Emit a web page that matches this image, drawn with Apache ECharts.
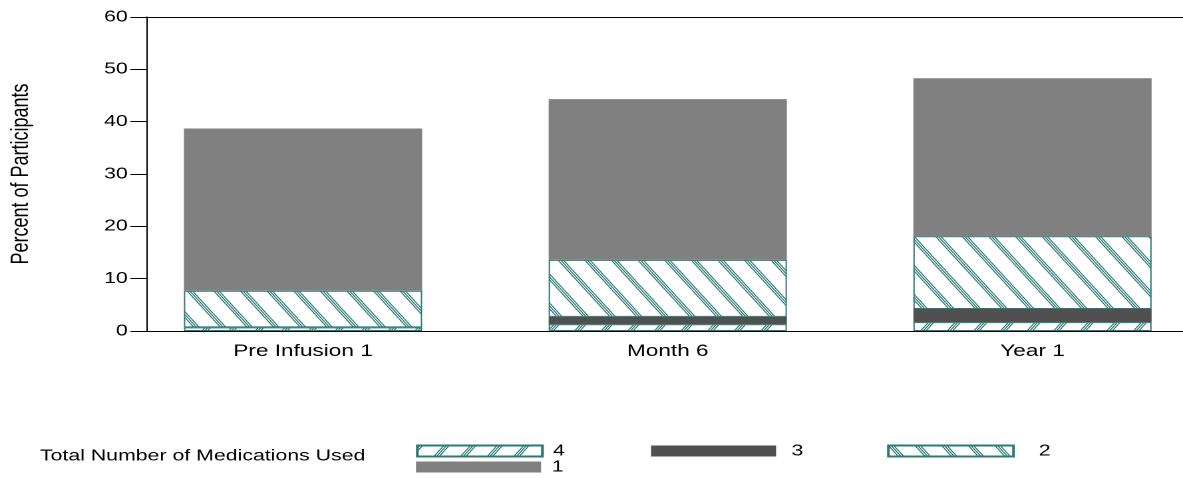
<!DOCTYPE html>
<html>
<head>
<meta charset="utf-8">
<script src="https://cdn.jsdelivr.net/npm/echarts@6/dist/echarts.min.js"></script>
<style>
html,body{margin:0;padding:0;background:#fff;overflow:hidden;}
#c{width:889px;height:478px;transform:scaleX(1.33071);transform-origin:0 0;}
</style>
</head>
<body>
<div id="c"></div>
<script>
// ---- data ----
const categories = ['Pre Infusion 1', 'Month 6', 'Year 1'];
const seriesNames = ['4', '3', '2', '1'];
const meds4 = [0.7, 1.3, 1.7];
const meds3 = [0, 1.4, 2.5];
const meds2 = [7.0, 10.9, 13.9];
const meds1 = [31.0, 30.7, 30.2];
const yTickMin = 0, yTickMax = 60, yTickStep = 10;
const legendTitle = 'Total Number of Medications Used';
const yTitle = 'Percent of Participants';

const TEAL = '#2a7a73';
const FONT = 'Liberation Sans, Arial, sans-serif';

function hatch(dir) {
  const R = 4;               // render pattern at higher resolution
  const w = 20 * R, h = 29 * R;
  const c = document.createElement('canvas');
  c.width = w; c.height = h;
  const ctx = c.getContext('2d');
  ctx.fillStyle = '#fff';
  ctx.fillRect(0, 0, w, h);
  ctx.strokeStyle = TEAL;
  ctx.lineWidth = 0.9 * R;
  [0, 2, 4].forEach(o => {
    [-w, 0, w].forEach(s => {
      const k = o * R + s;
      ctx.beginPath();
      if (dir === 'back') { ctx.moveTo(k, 0); ctx.lineTo(k + w, h); }
      else { ctx.moveTo(k, h); ctx.lineTo(k + w, 0); }
      ctx.stroke();
    });
  });
  return { image: c, repeat: 'repeat', scaleX: 1 / R, scaleY: 1 / R };
}

const styles = {
  '4': { color: hatch('fwd'), borderColor: TEAL, borderWidth: 1 },
  '3': { color: '#505050' },
  '2': { color: hatch('back'), borderColor: TEAL, borderWidth: 1 },
  '1': { color: '#808080' }
};
const values = { '4': meds4, '3': meds3, '2': meds2, '1': meds1 };

const chart = echarts.init(document.getElementById('c'), null, { devicePixelRatio: 2 });

const legendBase = {
  icon: 'rect', itemWidth: 94, itemHeight: 11, padding: 0, selectedMode: false,
  textStyle: { fontFamily: FONT, fontSize: 16, color: '#000' }
};
const legendPos = {
  '4': { left: 312.6, top: 443, pad: 3 },
  '3': { left: 489.2, top: 443, pad: 6.5 },
  '2': { left: 666.6, top: 443, pad: 14 },
  '1': { left: 312.6, top: 459, pad: 3 }
};
const hiddenAxis = { show: true, axisLine: { show: false }, axisTick: { show: false }, axisLabel: { show: false }, splitLine: { show: false } };

chart.setOption({
  animation: false,
  backgroundColor: '#fff',
  title: {
    text: legendTitle, left: 30, top: 448, padding: 0,
    textStyle: { fontFamily: FONT, fontSize: 16, fontWeight: 'normal', color: '#000' }
  },
  legend: seriesNames.map(n => Object.assign({}, legendBase, {
    data: [n], left: legendPos[n].left, top: legendPos[n].top,
    textStyle: Object.assign({}, legendBase.textStyle, { padding: [0, 0, 0, legendPos[n].pad] })
  })),
  grid: [
    { left: 90.65, width: 822.3, top: 17, bottom: 147, containLabel: false, outerBoundsMode: 'none' },
    { left: 110, right: 0, top: 17, bottom: 147, containLabel: false, outerBoundsMode: 'none' }
  ],
  xAxis: [{
    gridIndex: 0, type: 'category', data: categories,
    axisLine: { show: false }, axisTick: { show: false }, splitLine: { show: false },
    axisLabel: { margin: 12, fontFamily: FONT, fontSize: 17, color: '#000', interval: 0 }
  }, {
    gridIndex: 1, type: 'value', position: 'bottom', min: 0, max: 1,
    splitLine: { show: false },
    axisLine: { show: true, onZero: false, lineStyle: { color: '#000', width: 1 } },
    axisTick: { show: false }, axisLabel: { show: false }
  }, {
    gridIndex: 1, type: 'value', position: 'top', min: 0, max: 1,
    splitLine: { show: false },
    axisLine: { show: true, onZero: false, lineStyle: { color: '#000', width: 1 } },
    axisTick: { show: false }, axisLabel: { show: false }
  }],
  yAxis: [Object.assign({ gridIndex: 0, type: 'value', min: yTickMin, max: yTickMax, interval: yTickStep }, hiddenAxis), {
    gridIndex: 1, type: 'value', min: yTickMin, max: yTickMax, interval: yTickStep,
    name: yTitle, nameLocation: 'middle', nameRotate: 90, nameGap: 85,
    nameTextStyle: { fontFamily: FONT, fontSize: 18, color: '#000' },
    splitLine: { show: false },
    axisLine: { show: true, onZero: false, lineStyle: { color: '#000', width: 1 } },
    axisTick: { show: true, length: 12, lineStyle: { color: '#000' } },
    axisLabel: { margin: 14, fontFamily: FONT, fontSize: 16, color: '#000' }
  }],
  series: seriesNames.map(n => ({
    name: n, type: 'bar', stack: 'total', barWidth: 179,
    xAxisIndex: 0, yAxisIndex: 0,
    itemStyle: styles[n],
    data: values[n]
  }))
});
</script>
</body>
</html>
